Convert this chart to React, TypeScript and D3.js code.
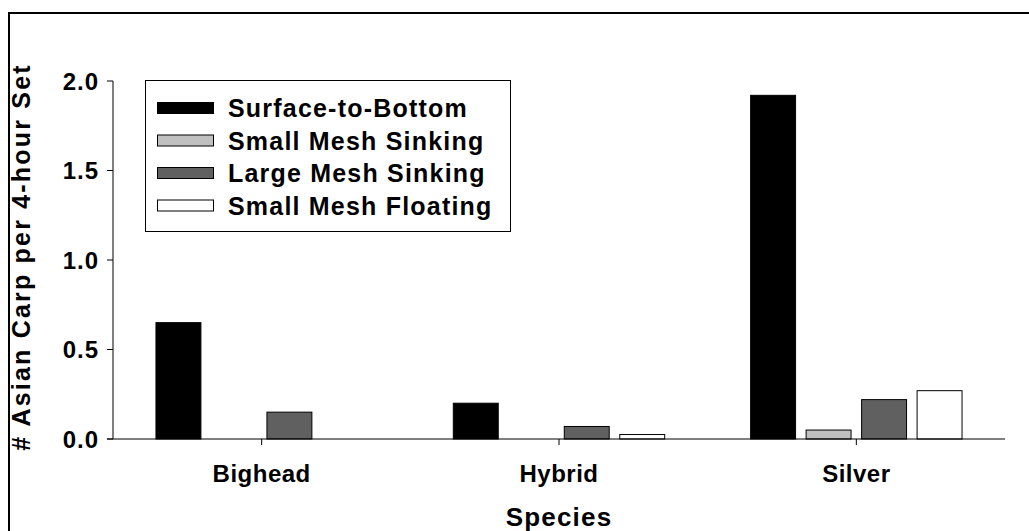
import React from "react";
import * as d3 from "d3";

const species = ["Bighead", "Hybrid", "Silver"];
const seriesNames = ["Surface-to-Bottom", "Small Mesh Sinking", "Large Mesh Sinking", "Small Mesh Floating"];
const seriesColors = ["#000000", "#c0c0c0", "#606060", "#ffffff"];
const surfaceToBottom = [0.65, 0.2, 1.92];
const smallMeshSinking = [0, 0, 0.05];
const largeMeshSinking = [0.15, 0.07, 0.22];
const smallMeshFloating = [0, 0.025, 0.27];
const yTicks = [0, 0.5, 1.0, 1.5, 2.0];

const seriesValues = [surfaceToBottom, smallMeshSinking, largeMeshSinking, smallMeshFloating];

export default function App() {
  const W = 1029, H = 531;
  const left = 113, right = 1005, top = 81, bottom = 439;
  const font = "'Liberation Sans', Arial, sans-serif";

  const y = d3.scaleLinear().domain([0, 2]).range([bottom, top]);
  const x0 = d3.scaleBand().domain(species).range([left, right]).paddingInner(0.289).paddingOuter(0.1445);
  const x1 = d3.scaleBand().domain(seriesNames).range([0, x0.bandwidth()]).paddingInner(0.19);

  const bars: any[] = [];
  species.forEach((sp, i) => {
    seriesNames.forEach((s, j) => {
      const v = seriesValues[j][i];
      if (v <= 0) return;
      bars.push(
        <rect key={sp + s} x={(x0(sp) as number) + (x1(s) as number)} y={y(v)}
          width={x1.bandwidth()} height={y(0) - y(v)}
          fill={seriesColors[j]} stroke="#000" strokeWidth={1} />
      );
    });
  });

  const xc = (sp: string) => (x0(sp) as number) + x0.bandwidth() / 2;
  const xStep = x0.step();

  return (
    <svg width={W} height={H} style={{ position: "absolute", left: 0, top: 0 }}>
      <rect x={0} y={0} width={W} height={H} fill="#fff" />
      <rect x={9} y={13} width={W + 20} height={H + 20} fill="none" stroke="#000" strokeWidth={2} />
      {bars}
      {/* axes */}
      <line x1={left} x2={left} y1={top} y2={bottom} stroke="#000" strokeWidth={1} />
      <line x1={left - 6} x2={left + xStep * species.length} y1={bottom} y2={bottom} stroke="#000" strokeWidth={1} />
      {yTicks.map(t => (
        <g key={t}>
          <line x1={left - 6} x2={left} y1={y(t)} y2={y(t)} stroke="#000" />
          <text x={99} y={y(t)} dy="0.36em" textAnchor="end" fontFamily={font} fontWeight="bold" fontSize={24} letterSpacing={1}>{t.toFixed(1)}</text>
        </g>
      ))}
      {species.map(sp => (
        <g key={sp}>
          <line x1={xc(sp)} x2={xc(sp)} y1={bottom} y2={bottom + 6} stroke="#000" />
          <text x={xc(sp)} y={482} textAnchor="middle" fontFamily={font} fontWeight="bold" fontSize={24} letterSpacing={0.5}>{sp}</text>
        </g>
      ))}
      <text x={(left + right) / 2} y={526} textAnchor="middle" fontFamily={font} fontWeight="bold" fontSize={26} letterSpacing={1.2}>Species</text>
      <text transform={`translate(30,257) rotate(-90)`} textAnchor="middle" fontFamily={font} fontWeight="bold" fontSize={25} letterSpacing={2.2}># Asian Carp per 4-hour Set</text>
      {/* legend */}
      <rect x={145.5} y={80.5} width={365} height={151} fill="#fff" stroke="#000" strokeWidth={1} />
      {seriesNames.map((s, j) => (
        <g key={s}>
          <rect x={157.5} y={102.5 + j * 32.5} width={56} height={11} fill={seriesColors[j]} stroke="#000" strokeWidth={1} />
          <text x={228} y={108 + j * 32.5} dy="0.36em" fontFamily={font} fontWeight="bold" fontSize={25} letterSpacing={1.2}>{s}</text>
        </g>
      ))}
    </svg>
  );
}
